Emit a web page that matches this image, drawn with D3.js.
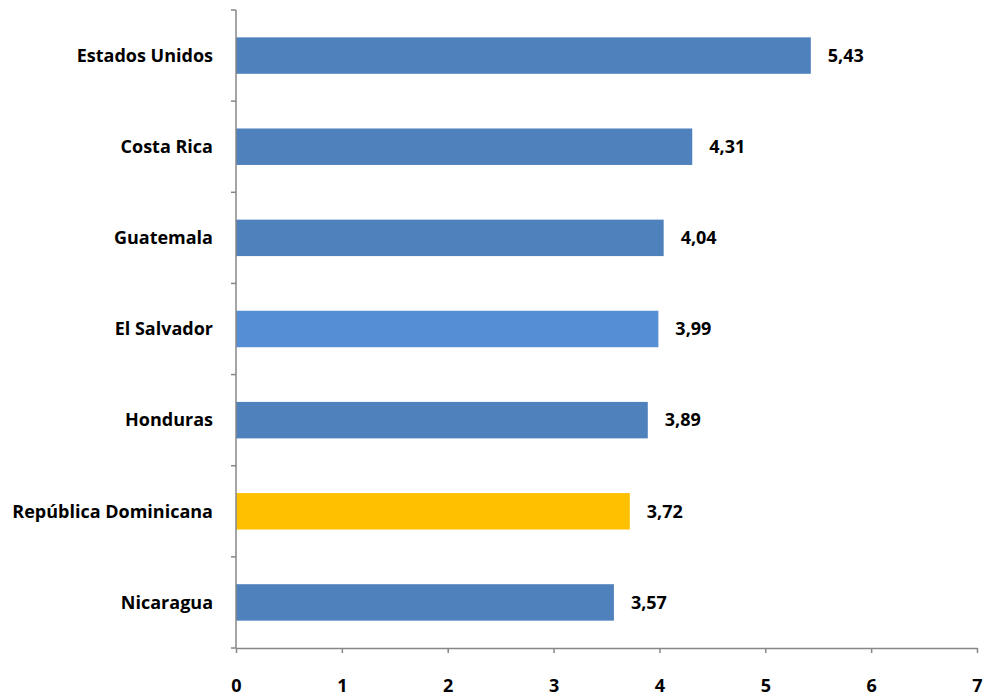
<!DOCTYPE html>
<html><head><meta charset="utf-8">
<script src="https://cdn.jsdelivr.net/npm/d3@7/dist/d3.min.js"></script>
<style>body{margin:0;background:#fff;} text{font-family:"Open Sans",sans-serif;font-weight:bold;fill:#000;}</style>
</head><body><svg id="c" width="986" height="696"></svg>
<script>
const categories = ["Estados Unidos","Costa Rica","Guatemala","El Salvador","Honduras","República Dominicana","Nicaragua"];
const values = [5.43,4.31,4.04,3.99,3.89,3.72,3.57];
const barColors = ["#4F81BD","#4F81BD","#4F81BD","#558ED5","#4F81BD","#FFC000","#4F81BD"];
const xTicks = [0,1,2,3,4,5,6,7];

const FONT = "'Open Sans', sans-serif";
const FS = "18px";
const svg = d3.select("#c");
const x = d3.scaleLinear().domain([0,7]).range([236,977]);
const y = d3.scaleBand().domain(categories).range([10,648]).paddingInner(0.6).paddingOuter(0.3);
const fmt = v => d3.format(".2f")(v).replace(".", ",");
const axisColor = "#878787";

svg.selectAll("rect.bar").data(categories).join("rect")
  .attr("class","bar")
  .attr("x", x(0))
  .attr("y", d => y(d))
  .attr("width", (d,i) => x(values[i]) - x(0))
  .attr("height", y.bandwidth())
  .attr("fill", (d,i) => barColors[i]);

// x axis
const xa = svg.append("g").attr("transform","translate(0,648)")
  .call(d3.axisBottom(x).tickValues(xTicks).tickSize(5).tickSizeOuter(0).tickFormat(d3.format("d")));
xa.select(".domain").attr("stroke",axisColor).attr("stroke-width",1.5);
xa.selectAll(".tick line").attr("stroke",axisColor).attr("stroke-width",1.5);
xa.selectAll(".tick text").attr("y",38).attr("dy","0.35em").style("font-size",FS).style("font-family",FONT).style("font-weight","bold").attr("fill","#000");

// y axis: ticks at band boundaries
const yBounds = d3.range(categories.length+1).map(i => 10 + i*(638/categories.length));
const ya = svg.append("g");
ya.append("line").attr("x1",236).attr("x2",236).attr("y1",10).attr("y2",648).attr("stroke",axisColor).attr("stroke-width",1.5);
ya.selectAll("line.t").data(yBounds).join("line").attr("class","t")
  .attr("x1",231).attr("x2",236).attr("y1",d=>d).attr("y2",d=>d).attr("stroke",axisColor).attr("stroke-width",1.5);
ya.selectAll("text").data(categories).join("text")
  .attr("x",213).attr("y",d=>y(d)+y.bandwidth()/2).attr("dy","0.35em")
  .attr("text-anchor","end").style("font-size",FS).text(d=>d);

svg.selectAll("text.val").data(categories).join("text").attr("class","val")
  .attr("x",(d,i)=>x(values[i])+17).attr("y",d=>y(d)+y.bandwidth()/2).attr("dy","0.35em")
  .style("font-size",FS).text((d,i)=>fmt(values[i]));
</script></body></html>
